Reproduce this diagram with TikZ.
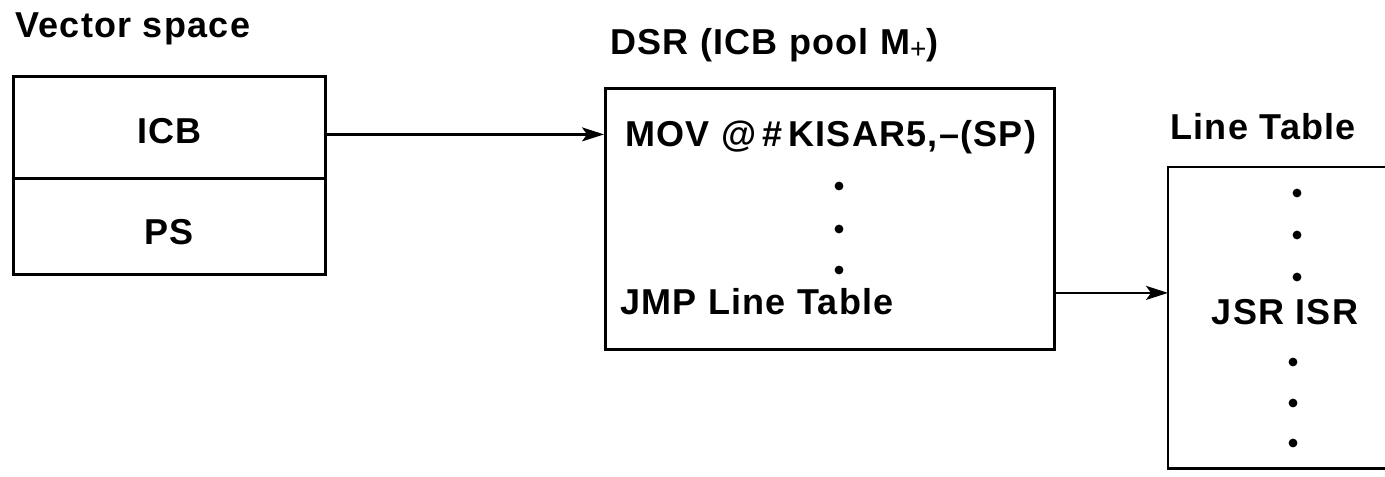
\documentclass[tikz,border=0pt]{standalone}
\usepackage{fontspec}
\setmainfont{Liberation Sans}
\newfontfamily\lab[LetterSpace=3.5]{Liberation Sans}
\usetikzlibrary{arrows.meta,calc}
\begin{document}
\begin{tikzpicture}[x=0.5pt,y=-0.5pt,
  txt/.style={font=\lab\fontsize{18}{20}\selectfont\bfseries, inner sep=0pt},
  box/.style={draw, line width=1.4pt, inner sep=0pt},
  conn/.style={line width=1.1pt, -{Stealth[length=11pt,width=7pt,inset=2.5pt]}},
  dotmark/.style={circle, fill, inner sep=0pt, minimum size=4.4pt}]
\useasboundingbox (0,0) rectangle (1385,476);
% Vector space
\node[txt, anchor=west] (vstitle) at (15,29) {Vector space};
\node[box, minimum width=156pt, minimum height=51pt, anchor=north west] (icb) at (12,75) {};
\node[box, minimum width=156pt, minimum height=48pt, anchor=north west] (ps) at (12,177) {};
\node[txt] (icbt) at ($(icb.center)+(0,4)$) {ICB};
\node[txt] (pst) at ($(ps.center)+(0,6)$) {PS};
% DSR
\node[txt, anchor=west] (dsrtitle) at (610,45) {DSR (ICB pool M\raisebox{-2pt}{\fontsize{14}{14}\selectfont\mdseries +})};
\node[box, minimum width=224.5pt, minimum height=130.5pt, anchor=north west] (dsr) at (604,87) {};
\node[txt, anchor=west] (mov) at (625,137) {MOV @\,\#\,KISAR5,–(SP)};
\node[dotmark] (d1) at (839,186) {};
\node[dotmark] (d2) at (839,229) {};
\node[dotmark] (d3) at (839,270) {};
\node[txt, anchor=west] (jmp) at (620,302) {JMP Line Table};
% Line Table
\node[txt, anchor=west] (lttitle) at (1170,127) {Line Table};
\node[inner sep=0pt, minimum width=108.5pt, minimum height=150.5pt, anchor=north west] (lt) at (1168,167) {};
\draw[line width=1.4pt] (lt.north east) -- (lt.north west) -- (lt.south west) -- (lt.south east);
\node[dotmark] (e1) at (1297,193) {};
\node[dotmark] (e2) at (1297,235) {};
\node[dotmark] (e3) at (1297,277) {};
\node[txt] (jsr) at (1285,312) {JSR ISR};
\node[dotmark] (e4) at (1293,362) {};
\node[dotmark] (e5) at (1293,403) {};
\node[dotmark] (e6) at (1293,443) {};
% connectors
\coordinate (a1) at ($(icb.east)+(0,7)$);
\draw[conn] (a1) -- (a1 -| dsr.west);
\coordinate (a2) at ($(dsr.east)+(0,74)$);
\draw[conn] (a2) -- (a2 -| lt.west);
\end{tikzpicture}
\end{document}
